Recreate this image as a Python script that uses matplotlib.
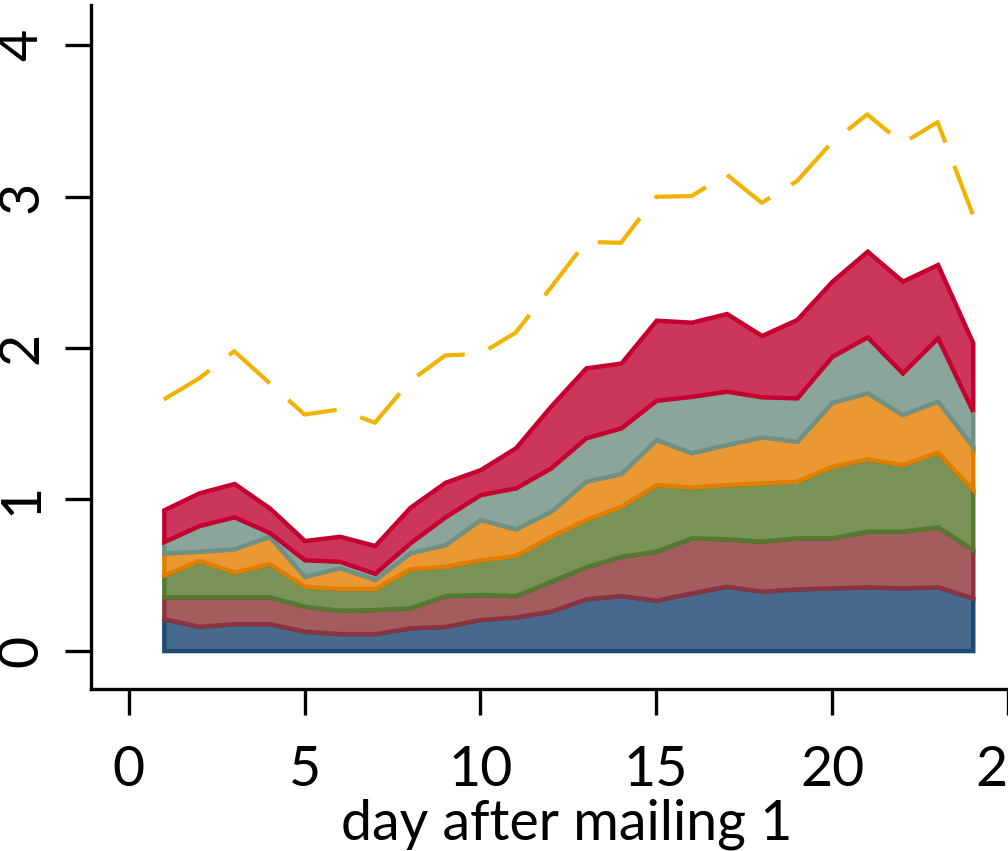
import numpy as np
import matplotlib
matplotlib.use("Agg")
import matplotlib.pyplot as plt

plt.rcParams['font.family'] = ['Lato', 'DejaVu Sans']

days = list(range(1, 25))

series_blue = [0.210, 0.160, 0.178, 0.178, 0.128, 0.112, 0.112, 0.150, 0.160, 0.205, 0.222, 0.260,
               0.342, 0.363, 0.333, 0.381, 0.425, 0.392, 0.408, 0.414, 0.421, 0.414, 0.421, 0.348]
series_brick = [0.145, 0.195, 0.177, 0.177, 0.165, 0.154, 0.159, 0.132, 0.203, 0.165, 0.141, 0.198,
                0.211, 0.260, 0.323, 0.364, 0.313, 0.331, 0.337, 0.331, 0.368, 0.375, 0.397, 0.320]
series_green = [0.145, 0.240, 0.163, 0.220, 0.132, 0.144, 0.139, 0.258, 0.194, 0.230, 0.265, 0.297,
                0.313, 0.331, 0.441, 0.335, 0.359, 0.385, 0.374, 0.473, 0.478, 0.440, 0.493, 0.396]
series_orange = [0.145, 0.061, 0.154, 0.180, 0.065, 0.137, 0.060, 0.106, 0.143, 0.266, 0.176, 0.165,
                 0.253, 0.216, 0.298, 0.227, 0.264, 0.304, 0.264, 0.423, 0.436, 0.331, 0.337, 0.286]
series_gray = [0.075, 0.170, 0.212, 0.025, 0.110, 0.043, 0.040, 0.066, 0.184, 0.165, 0.271, 0.287,
               0.287, 0.302, 0.259, 0.373, 0.353, 0.265, 0.287, 0.304, 0.370, 0.275, 0.419, 0.232]
series_crimson = [0.210, 0.216, 0.220, 0.163, 0.127, 0.165, 0.184, 0.235, 0.228, 0.165, 0.265, 0.408,
                  0.462, 0.428, 0.529, 0.490, 0.513, 0.405, 0.518, 0.496, 0.566, 0.606, 0.484, 0.452]
series_dashed = [1.659, 1.798, 1.978, 1.769, 1.560, 1.593, 1.505, 1.780, 1.950, 1.961, 2.100, 2.397,
                 2.700, 2.695, 2.999, 3.003, 3.146, 2.959, 3.102, 3.360, 3.543, 3.351, 3.492, 2.882]

xticks = [0, 5, 10, 15, 20, 25]
yticks = [0, 1, 2, 3, 4]

fills = ['#476a8c', '#a35d5f', '#789257', '#e99834', '#8ba59a', '#cc365c']
edges = ['#1f4a74', '#8b3340', '#537a2f', '#e07e00', '#6f9185', '#c4002f']

W, H = 1008, 851
fig = plt.figure(figsize=(W / 100, H / 100), dpi=100)

x0_px = 90.7
px_per_x = 35.17
xmin, xmax = -1.08, 26.0
ax_w_px = (xmax - xmin) * px_per_x
bottom_px, top_px = 689, 5
ax = fig.add_axes([x0_px / W, (H - bottom_px) / H, ax_w_px / W, (bottom_px - top_px) / H])

x = np.array(days)
layers = [series_blue, series_brick, series_green, series_orange, series_gray, series_crimson]
base = np.zeros(len(x))
for vals, fc, ec in zip(layers, fills, edges):
    top = base + np.array(vals)
    ax.fill_between(x, base, top, facecolor=fc, edgecolor=ec, linewidth=3.2, joinstyle='miter')
    base = top

ax.plot(x, series_dashed, color='#f0b400', linewidth=3.0, dashes=(13, 6))

ax.set_xlim(xmin, xmax)
ax.set_ylim(-0.254, 4.266)
ax.set_xticks(xticks)
ax.set_yticks(yticks)
ax.set_xticklabels([str(t) for t in xticks])
ax.set_yticklabels([str(t) for t in yticks], rotation=90, va='center')

for s in ['top', 'right']:
    ax.spines[s].set_visible(False)
for s in ['left', 'bottom']:
    ax.spines[s].set_linewidth(2.4)

ax.tick_params(axis='both', length=19, width=2.4, labelsize=40, colors='black')
ax.tick_params(axis='x', pad=21)
ax.tick_params(axis='y', pad=12)
ax.set_xlabel('day after mailing 1', fontsize=40, labelpad=2)

fig.savefig('out.png', dpi=100)
